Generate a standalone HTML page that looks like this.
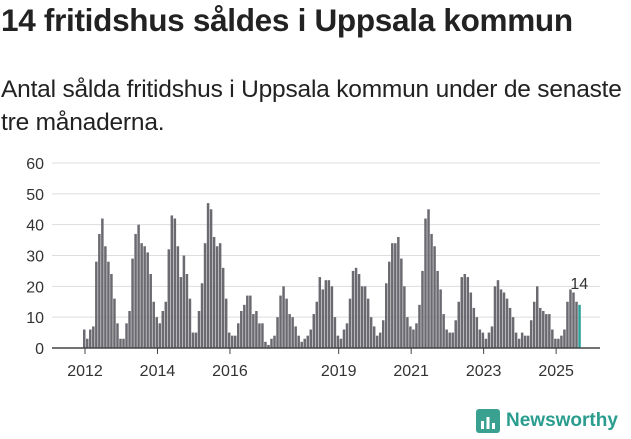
<!DOCTYPE html>
<html><head><meta charset="utf-8"><style>
body{margin:0;background:#fff;width:631px;height:439px;overflow:hidden;font-family:"Liberation Sans",sans-serif;}
h1{position:absolute;left:1px;top:2px;margin:0;font-size:31.5px;font-weight:bold;color:#222;letter-spacing:-0.3px;white-space:nowrap}
p{position:absolute;left:1px;top:73px;margin:0;font-size:24.5px;line-height:33px;color:#222;white-space:nowrap;letter-spacing:-0.2px}
#logo{position:absolute;left:476px;top:409px;display:flex;align-items:center;font-size:19px;font-weight:bold;color:#2a9d8f}
</style></head><body>
<h1>14 fritidshus såldes i Uppsala kommun</h1>
<p>Antal sålda fritidshus i Uppsala kommun under de senaste<br>tre månaderna.</p>
<svg id="chart" width="631" height="400" style="position:absolute;left:0;top:0"></svg>
<div id="logo"><svg width="24" height="24" style="margin-right:6px"><rect x="0" y="0" width="24" height="24" rx="3" fill="#3aa08f"/><rect x="5" y="12" width="3" height="8" fill="#fff"/><rect x="10.5" y="8" width="3" height="12" fill="#fff"/><rect x="16" y="14" width="3" height="6" fill="#fff"/></svg><span>Newsworthy</span></div>
<script>
const values=[6,3,6,7,28,37,42,33,28,24,16,8,
3,3,8,12,29,37,40,34,33,31,24,15,
10,8,12,15,32,43,42,33,23,30,24,16,
5,5,12,21,34,47,45,36,33,34,26,16,
5,4,4,8,12,14,17,17,11,12,8,8,
2,1,3,4,10,17,20,16,11,10,7,4,
2,3,4,6,11,15,23,19,22,22,20,10,
4,3,6,8,16,25,26,24,20,20,16,10,
7,4,5,9,21,28,34,34,36,29,20,10,
7,6,8,14,25,42,45,37,33,25,19,11,
6,5,5,9,15,23,24,23,18,13,10,6,
5,3,5,7,20,22,19,18,16,13,10,5,
3,5,4,4,9,15,20,13,12,11,11,6,
3,3,4,6,15,19,18,15,14];
const yTicks=[0,10,20,30,40,50,60];
const xYears=[2012,2014,2016,2019,2021,2023,2025];
const svg=document.getElementById('chart');const NS='http://www.w3.org/2000/svg';
const y=v=>348-v*3.083;const x=i=>83+3.02*i;const xYear=yr=>85+3.02*12*(yr-2012);
function mk(t,a){const e=document.createElementNS(NS,t);for(const k in a)e.setAttribute(k,a[k]);svg.appendChild(e);return e;}
yTicks.forEach(v=>{const l=mk('line',{x1:52,x2:600,y1:y(v),y2:y(v),stroke:'#ddd','stroke-width':1});


const t=mk('text',{x:44,y:y(v)+6,'text-anchor':'end','font-size':16,fill:'#333'});t.textContent=v;

});
values.forEach((v,i)=>{const last=i===values.length-1;const r=mk('rect',{x:x(i),y:y(v),width:2.5,height:348-y(v),fill:last?'#2aa198':'#6b6a70'});


if(last){const t=mk('text',{x:x(i)+1,y:y(v)-16,'text-anchor':'middle','font-size':16,fill:'#333'});t.textContent=v;

}});
mk('line',{x1:52,x2:600,y1:348,y2:348,stroke:'#444','stroke-width':1.5});
xYears.forEach(yr=>{const xx=xYear(yr);mk('line',{x1:xx,x2:xx,y1:348,y2:354,stroke:'#444'});
const t=mk('text',{x:xx,y:376,'text-anchor':'middle','font-size':16,fill:'#333'});t.textContent=yr;

});
</script>
</body></html>
